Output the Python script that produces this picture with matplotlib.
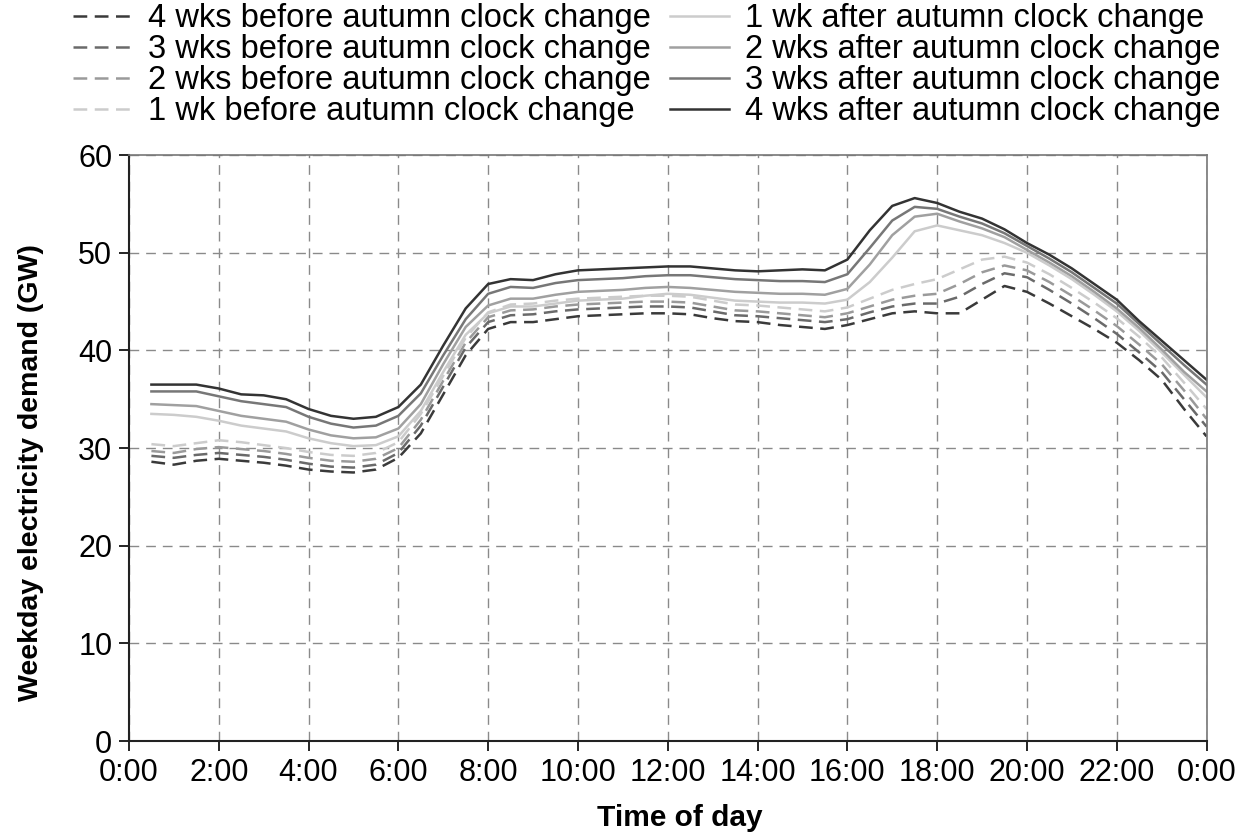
import numpy as np
import matplotlib.pyplot as plt

plt.rcParams['font.family'] = ['Liberation Sans', 'DejaVu Sans']

# half-hourly readings, 0:30 .. 24:00
hours = np.arange(1, 49) * 0.5

before_4 = [28.6, 28.3, 28.7, 28.9, 28.7, 28.5, 28.2, 27.8, 27.6, 27.5, 27.8, 29.0,
            31.5, 35.5, 39.5, 42.2, 42.9, 42.9, 43.2, 43.5, 43.6, 43.7, 43.8, 43.8,
            43.7, 43.3, 43.0, 42.9, 42.6, 42.4, 42.2, 42.6, 43.2, 43.8, 44.0, 43.8,
            43.8, 45.2, 46.6, 46.0, 44.8, 43.5, 42.2, 40.8, 39.0, 37.0, 34.0, 31.2]
before_3 = [29.2, 29.0, 29.3, 29.5, 29.3, 29.1, 28.8, 28.4, 28.1, 28.0, 28.3, 29.5,
            32.3, 36.3, 40.3, 42.9, 43.6, 43.7, 44.0, 44.2, 44.3, 44.4, 44.5, 44.5,
            44.4, 44.0, 43.6, 43.5, 43.3, 43.1, 42.9, 43.2, 43.9, 44.5, 44.8, 44.8,
            45.5, 46.8, 47.9, 47.5, 46.2, 44.8, 43.3, 41.7, 39.8, 37.8, 35.0, 32.2]
before_2 = [29.7, 29.5, 29.9, 30.1, 29.9, 29.7, 29.4, 29.0, 28.7, 28.6, 28.9, 30.0,
            32.9, 36.9, 40.8, 43.4, 44.1, 44.2, 44.5, 44.7, 44.8, 44.9, 45.0, 45.0,
            44.9, 44.5, 44.1, 44.0, 43.8, 43.6, 43.4, 43.8, 44.5, 45.2, 45.6, 45.8,
            46.8, 48.0, 48.7, 48.2, 47.0, 45.6, 44.1, 42.5, 40.6, 38.6, 35.9, 33.0]
before_1 = [30.4, 30.2, 30.5, 30.8, 30.6, 30.3, 30.0, 29.6, 29.3, 29.2, 29.5, 30.6,
            33.5, 37.4, 41.3, 43.9, 44.7, 44.8, 45.1, 45.3, 45.4, 45.5, 45.6, 45.6,
            45.5, 45.1, 44.7, 44.6, 44.4, 44.2, 44.0, 44.4, 45.3, 46.2, 46.8, 47.3,
            48.3, 49.3, 49.6, 49.0, 47.8, 46.4, 44.9, 43.3, 41.4, 39.3, 36.7, 34.0]
after_1 = [33.5, 33.4, 33.2, 32.8, 32.3, 32.0, 31.7, 31.0, 30.5, 30.2, 30.3, 31.2,
           33.8, 37.8, 41.6, 43.8, 44.5, 44.5, 44.8, 45.1, 45.2, 45.3, 45.6, 45.8,
           45.7, 45.4, 45.1, 45.0, 44.9, 44.9, 44.8, 45.2, 47.0, 49.5, 52.2, 52.8,
           52.3, 51.8, 51.0, 50.0, 48.7, 47.3, 45.7, 44.0, 42.0, 39.8, 37.5, 35.2]
after_2 = [34.5, 34.4, 34.3, 33.8, 33.3, 33.0, 32.7, 31.9, 31.3, 31.0, 31.1, 32.0,
           34.5, 38.6, 42.4, 44.6, 45.3, 45.3, 45.7, 46.0, 46.1, 46.2, 46.4, 46.5,
           46.4, 46.2, 46.0, 45.9, 45.8, 45.8, 45.7, 46.3, 48.8, 51.8, 53.7, 54.0,
           53.2, 52.5, 51.6, 50.3, 49.0, 47.6, 46.0, 44.3, 42.3, 40.1, 37.8, 35.8]
after_3 = [35.8, 35.8, 35.8, 35.3, 34.8, 34.5, 34.2, 33.2, 32.5, 32.1, 32.3, 33.3,
           35.6, 39.5, 43.2, 45.8, 46.5, 46.4, 46.9, 47.2, 47.3, 47.4, 47.6, 47.7,
           47.7, 47.5, 47.3, 47.2, 47.1, 47.1, 47.0, 47.8, 50.5, 53.3, 54.7, 54.5,
           53.7, 53.0, 52.0, 50.7, 49.4, 48.0, 46.4, 44.8, 42.7, 40.6, 38.5, 36.5]
after_4 = [36.5, 36.5, 36.5, 36.1, 35.5, 35.4, 35.0, 34.0, 33.3, 33.0, 33.2, 34.2,
           36.5, 40.5, 44.3, 46.8, 47.3, 47.2, 47.8, 48.2, 48.3, 48.4, 48.5, 48.6,
           48.6, 48.4, 48.2, 48.1, 48.2, 48.3, 48.2, 49.3, 52.3, 54.8, 55.6, 55.1,
           54.2, 53.5, 52.4, 51.0, 49.8, 48.4, 46.8, 45.2, 43.0, 41.0, 39.0, 37.0]

labels = ['4 wks before autumn clock change', '3 wks before autumn clock change',
          '2 wks before autumn clock change', '1 wk before autumn clock change',
          '1 wk after autumn clock change', '2 wks after autumn clock change',
          '3 wks after autumn clock change', '4 wks after autumn clock change']
series = [before_4, before_3, before_2, before_1, after_1, after_2, after_3, after_4]
colors = ['#3a3a3a', '#6a6a6a', '#9a9a9a', '#cccccc',
          '#cccccc', '#a0a0a0', '#777777', '#333333']

xticks = np.arange(0, 25, 2)
xticklabels = ['%d:00' % (h % 24) for h in xticks]

fig = plt.figure(figsize=(12.4, 8.34), dpi=100)
ax = fig.add_axes([0.104, 0.1115, 0.869, 0.7025])

lines = []
for i, (vals, lab, c) in enumerate(zip(series, labels, colors)):
    if i < 4:
        ln, = ax.plot(hours, vals, color=c, lw=1.8, dashes=(5.5, 3), label=lab)
    else:
        ln, = ax.plot(hours, vals, color=c, lw=1.8, label=lab)
    lines.append(ln)

ax.set_xlim(0, 24)
ax.set_ylim(0, 60)
ax.set_xticks(xticks)
ax.set_xticklabels(xticklabels)
ax.set_yticks(np.arange(0, 61, 10))
ax.grid(True, color='#8a8a8a', lw=1, dashes=(7, 5))
ax.set_axisbelow(True)
ax.tick_params(labelsize=22, length=7, width=1.2, direction='out', pad=5)

for s in ['left', 'bottom']:
    ax.spines[s].set_color('#222222')
    ax.spines[s].set_linewidth(1.5)
for s in ['top', 'right']:
    ax.spines[s].set_color('#777777')
    ax.spines[s].set_linewidth(1.2)

ax.set_xlabel('Time of day', fontsize=21.5, fontweight='bold')
ax.set_ylabel('Weekday electricity demand (GW)', fontsize=20.5, fontweight='bold')
ax.xaxis.set_label_coords(0.511, -0.108)
ax.yaxis.set_label_coords(-0.079, 0.459)

fig.legend(handles=lines, ncol=2, loc='upper left', bbox_to_anchor=(0.056, 1.0),
           frameon=False, fontsize=23.5, labelspacing=0.0, handlelength=1.8,
           handletextpad=0.5, columnspacing=0.6, borderaxespad=0, borderpad=0.1)

fig.savefig('out.png', dpi=100)
